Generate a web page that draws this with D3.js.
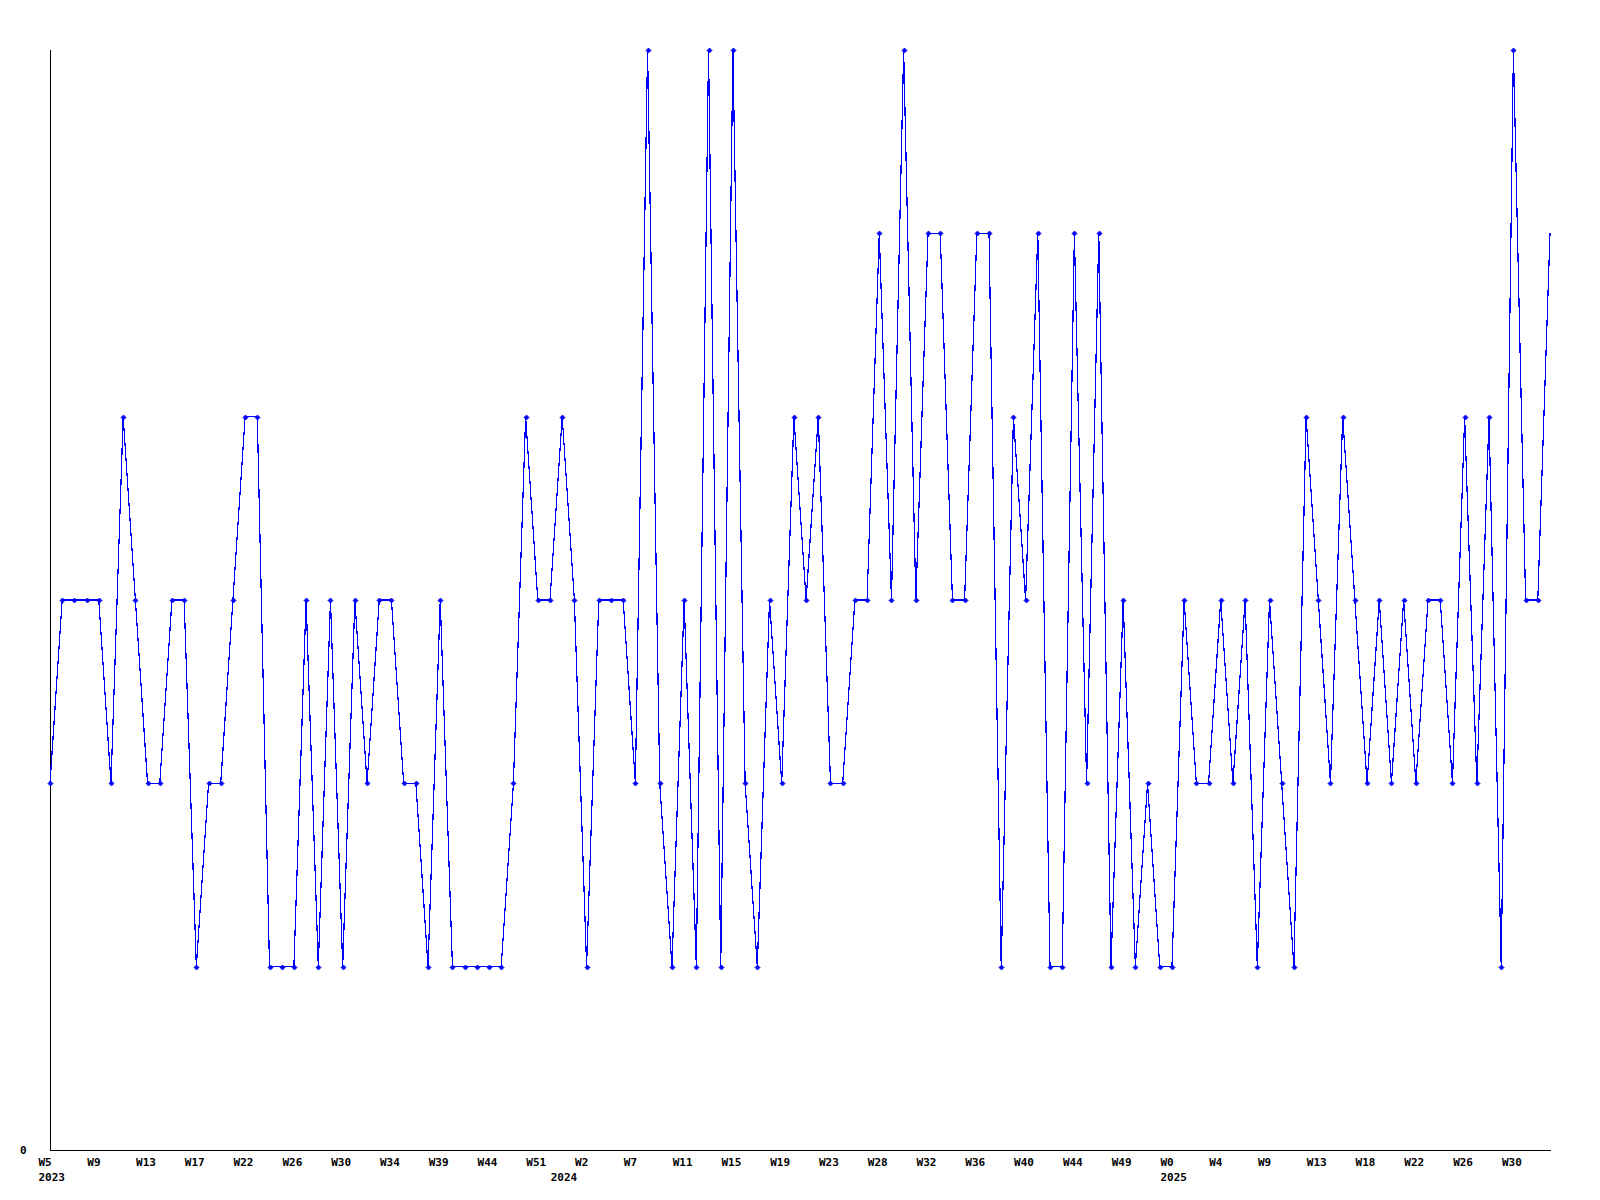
<!DOCTYPE html>
<html>
<head>
<meta charset="utf-8">
<script src="https://cdn.jsdelivr.net/npm/d3@7"></script>
<style>
  html, body { margin: 0; padding: 0; background: #fff; }
  svg { display: block; }
  text { font-family: "DejaVu Sans Mono", "Liberation Mono", monospace; font-weight: bold; font-size: 11px; fill: #000; }
</style>
</head>
<body>
<svg id="chart" width="1600" height="1200"></svg>
<script>
// Weekly values (one per point, 124 points)
const values = [
  2,3,3,3,3,2,4,3,2,2,
  3,3,1,2,2,3,4,4,1,1,
  1,3,1,3,1,3,2,3,3,2,
  2,1,3,1,1,1,1,1,2,4,
  3,3,4,3,1,3,3,3,2,6,
  2,1,3,1,6,1,6,2,1,3,
  2,4,3,4,2,2,3,3,5,3,
  6,3,5,5,3,3,5,5,1,4,
  3,5,1,1,5,2,5,1,3,1,
  2,1,1,3,2,2,3,2,3,1,
  3,2,1,4,3,2,4,3,2,3,
  2,3,2,3,3,2,4,2,4,1,
  6,3,3,5
];
// Week tick labels, shown every 4th point
const tickStep = 4;
const weekLabels = ["W5","W9","W13","W17","W22","W26","W30","W34","W39","W44","W51",
  "W2","W7","W11","W15","W19","W23","W28","W32","W36","W40","W44","W49",
  "W0","W4","W9","W13","W18","W22","W26","W30"];
// Year labels and the point index where each year starts
const yearLabels = ["2023","2024","2025"];
const yearStarts = [0, 42, 92];
const yTickValues = [0];
const yMax = 6;

(function () {
const svg = d3.select("#chart");
const mLeft = 50, mRight = 1550, mTop = 50, mBottom = 1150;

const x = d3.scaleLinear().domain([0, values.length - 1]).range([mLeft, mRight]);
const y = d3.scaleLinear().domain([0, yMax]).range([mBottom, mTop]);

// axes lines
svg.append("line").attr("x1", mLeft + 0.5).attr("x2", mLeft + 0.5)
  .attr("y1", mTop).attr("y2", mBottom + 0.5)
  .attr("stroke", "#000").attr("stroke-width", 1).attr("shape-rendering", "crispEdges");
svg.append("line").attr("x1", mLeft).attr("x2", mRight + 1)
  .attr("y1", mBottom + 0.5).attr("y2", mBottom + 0.5)
  .attr("stroke", "#000").attr("stroke-width", 1).attr("shape-rendering", "crispEdges");

// y tick labels
svg.selectAll("text.ylab").data(yTickValues).join("text")
  .attr("class", "ylab")
  .attr("x", 26.5)
  .attr("y", d => y(d) + 4)
  .attr("text-anchor", "end")
  .text(d => d);

// x week labels
svg.selectAll("text.wlab").data(weekLabels).join("text")
  .attr("class", "wlab")
  .attr("x", (d, i) => x(i * tickStep) - 11.5)
  .attr("y", mBottom + 16)
  .attr("text-anchor", "start")
  .text(d => d);

// year labels
svg.selectAll("text.yrlab").data(yearLabels).join("text")
  .attr("class", "yrlab")
  .attr("x", (d, i) => x(yearStarts[i]) - 11.5)
  .attr("y", mBottom + 31)
  .attr("text-anchor", "start")
  .text(d => d);

// line
const line = d3.line().x((d, i) => x(i)).y(d => y(d));
svg.append("path").datum(values)
  .attr("d", line)
  .attr("fill", "none")
  .attr("stroke", "#0000ff")
  .attr("stroke-width", 1.2)
  .attr("shape-rendering", "crispEdges");

// markers (small diamonds), last point without marker
const r = 2.5;
svg.selectAll("path.mk").data(values.slice(0, values.length - 1)).join("path")
  .attr("class", "mk")
  .attr("d", (d, i) => {
    const cx = Math.round(x(i)) + 0.5, cy = Math.round(y(d)) + 0.5;
    return `M${cx - r},${cy}L${cx},${cy - r}L${cx + r},${cy}L${cx},${cy + r}Z`;
  })
  .attr("fill", "#0000ff")
  .attr("stroke", "#0000ff")
  .attr("stroke-width", 0.8);
})();
</script>
</body>
</html>
